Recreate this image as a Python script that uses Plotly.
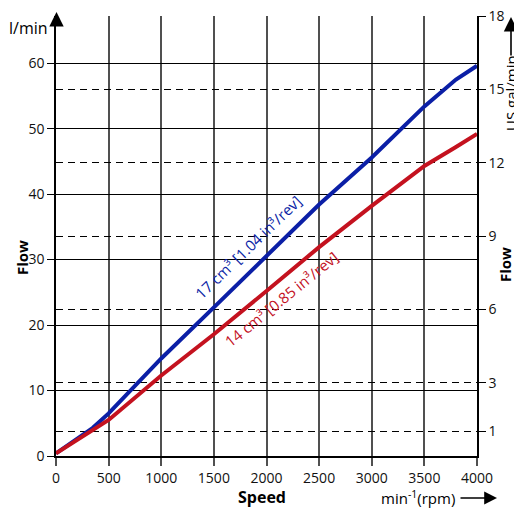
import plotly.graph_objects as go

# ---- data ----
speed_rpm = [0, 350, 500, 1000, 1500, 2000, 2500, 3000, 3500, 3800, 4000]
flow_17cc = [0.4, 4.3, 6.5, 14.9, 22.7, 30.6, 38.4, 45.6, 53.4, 57.5, 59.6]
flow_14cc = [0.4, 4.0, 5.5, 12.3, 18.6, 25.2, 31.9, 38.2, 44.3, 47.2, 49.2]

x_ticks = [0, 500, 1000, 1500, 2000, 2500, 3000, 3500, 4000]
lmin_ticks = [0, 10, 20, 30, 40, 50, 60]
gal_ticks = [1, 3, 6, 9, 12, 15, 18]

label_17 = "17 cm³ [1.04 in³/rev]"
label_14 = "14 cm³ [0.85 in³/rev]"

LMIN_MAX = 67.2
GAL_MAX = 18.0

BLUE = "#0b1fa6"
RED = "#c4121f"
FONT = "Open Sans"

fig = go.Figure()
fig.add_trace(go.Scatter(x=speed_rpm, y=flow_17cc, mode="lines",
                         line=dict(color=BLUE, width=4), showlegend=False))
fig.add_trace(go.Scatter(x=speed_rpm, y=flow_14cc, mode="lines",
                         line=dict(color=RED, width=4), showlegend=False))

L, R, T, B = 56, 37, 16, 53
W, H = 514, 509
pw, ph = W - L - R, H - T - B

def px(xp):
    return (xp - L) / pw

def py(yp):
    return (H - B - yp) / ph

fig.update_layout(
    width=W, height=H,
    margin=dict(l=L, r=R, t=T, b=B, pad=0),
    paper_bgcolor="white", plot_bgcolor="white",
    font=dict(family=FONT, size=14, color="#111"),
    xaxis=dict(range=[0, 4000], tickvals=x_ticks, showgrid=True,
               gridcolor="#505050", gridwidth=1.6,
               ticks="outside", ticklen=8, tickcolor="#505050", tickwidth=1.6,
               showline=True, linecolor="black", linewidth=1.5,
               zeroline=False, tickfont=dict(size=14), automargin=False),
    yaxis=dict(range=[0, LMIN_MAX], tickvals=lmin_ticks, showgrid=True,
               gridcolor="black", gridwidth=1.2,
               ticks="outside", ticklen=7, tickcolor="black", tickwidth=1.3,
               showline=True, linecolor="black", linewidth=1.6,
               zeroline=False, tickfont=dict(size=14), automargin=False),
    yaxis2=dict(range=[0, GAL_MAX], tickvals=gal_ticks, overlaying="y",
                side="right", showgrid=True, gridcolor="black", gridwidth=1,
                griddash="7px,5px",
                ticks="outside", ticklen=7, tickcolor="black", tickwidth=1.3,
                showline=True, linecolor="black", linewidth=1.6,
                zeroline=False, tickfont=dict(size=14), automargin=False),
)
# invisible trace to activate y2
fig.add_trace(go.Scatter(x=[0], y=[0], yaxis="y2", mode="markers",
                         marker=dict(opacity=0), showlegend=False, hoverinfo="skip"))

def text_ann(xp, yp, text, size, angle=0, color="black"):
    return dict(x=px(xp), y=py(yp), xref="paper", yref="paper", text=text,
                showarrow=False, textangle=angle, xanchor="center", yanchor="middle",
                font=dict(size=size, color=color, family=FONT))

def arrow_ann(tip_x, tip_y, ax, ay, size):
    return dict(x=px(tip_x), y=py(tip_y), xref="paper", yref="paper", text="",
                showarrow=True, ax=ax, ay=ay, arrowhead=2, arrowsize=size,
                arrowwidth=1.6, arrowcolor="black", standoff=0, startstandoff=0,
                xanchor="center", yanchor="middle")

ann = []
# curve labels
ann.append(dict(x=1825, y=31.9, xref="x", yref="y", text=label_17, showarrow=False,
                textangle=-44, xanchor="center", yanchor="middle",
                font=dict(size=15, color=BLUE, family=FONT)))
ann.append(dict(x=2140, y=24.0, xref="x", yref="y", text=label_14, showarrow=False,
                textangle=-39, xanchor="center", yanchor="middle",
                font=dict(size=15, color=RED, family=FONT)))
# axis titles
ann.append(text_ann(22, 258, "<b>Flow</b>", 15, -90))
ann.append(text_ann(505, 265, "<b>Flow</b>", 15, -90))
ann.append(text_ann(262, 497, "<b>Speed</b>", 16))
ann.append(text_ann(418, 497, "min<sup>-1</sup>(rpm)", 15))
ann.append(text_ann(29, 28, "l/min", 16))
ann.append(text_ann(511, 93, "US gal/min", 15, -90))
# arrows
ann.append(arrow_ann(497, 498, -38, 0, 1.6))
ann.append(arrow_ann(56.5, 12, 0, 8, 1.8))
ann.append(arrow_ann(511, 17, 0, 40, 1.8))
fig.update_layout(annotations=ann)

fig.write_html("out.html", config={"displayModeBar": False},
               post_script="document.body.style.margin='0';document.body.style.overflow='hidden';")
